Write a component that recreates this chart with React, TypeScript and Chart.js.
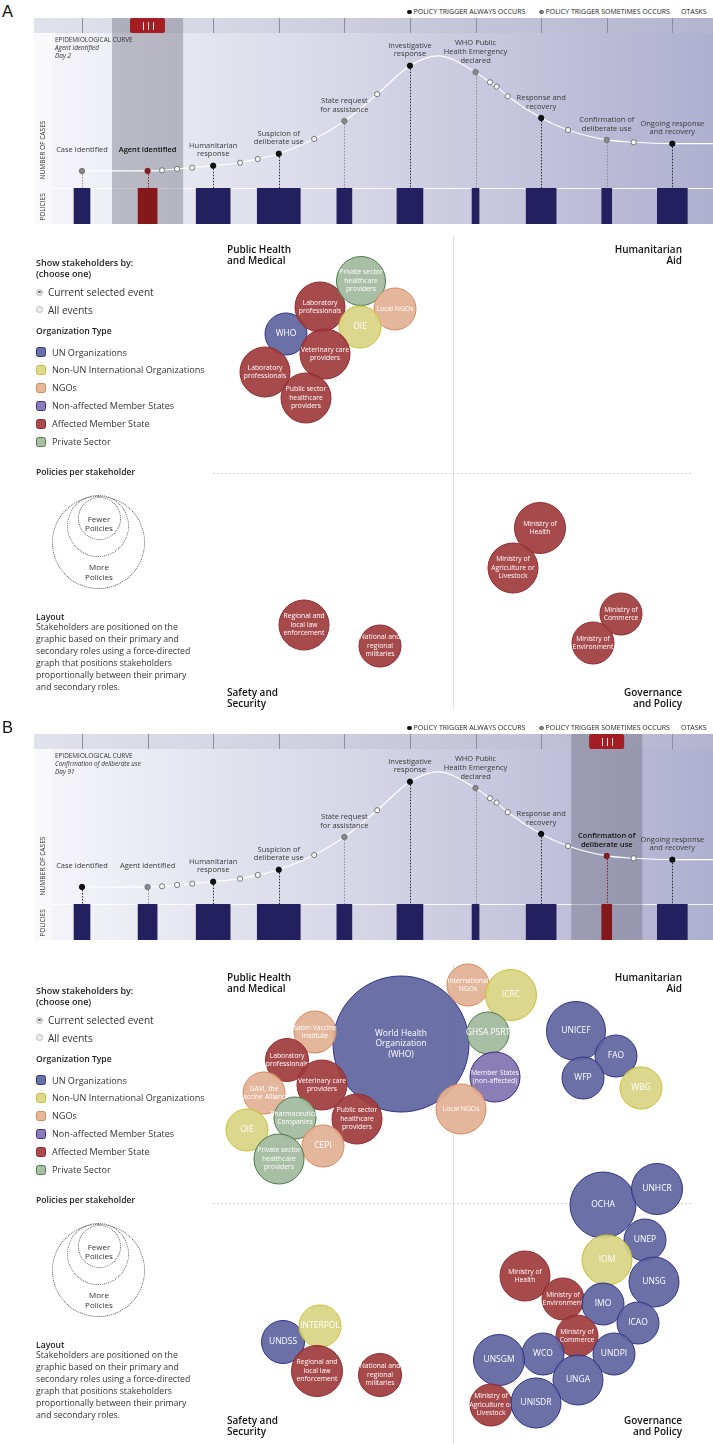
import React, { useEffect, useRef } from 'react';
import { Chart, registerables } from 'chart.js';

Chart.register(...registerables);

const FONT = '"Open Sans", "DejaVu Sans", sans-serif';
const PAGE_W = 713;

// ---------------- Epidemiological timeline data ----------------
const eventLabels = [
  'Case identified',
  'Agent identified',
  'Humanitarian\nresponse',
  'Suspicion of\ndeliberate use',
  'State request\nfor assistance',
  'Investigative\nresponse',
  'WHO Public\nHealth Emergency\ndeclared',
  'Response and\nrecovery',
  'Confirmation of\ndeliberate use',
  'Ongoing response\nand recovery',
];
const eventPos = [0, 1, 2, 3, 4, 5, 6, 7, 8, 9];
const eventCases = [11.0, 11.0, 14.4, 22.1, 43.2, 78.9, 74.8, 45.2, 31.0, 28.6];
const eventKindsA = ['sometimes', 'selected', 'always', 'always', 'sometimes', 'always', 'sometimes', 'always', 'sometimes', 'always'];
const eventKindsB = ['always', 'sometimes', 'always', 'always', 'sometimes', 'always', 'sometimes', 'always', 'selected', 'always'];
const taskPos = [1.22, 1.45, 1.68, 2.41, 2.68, 3.54, 4.5, 6.22, 6.32, 6.49, 7.41, 8.41];
const taskCases = [11.4, 12.3, 13.1, 16.3, 18.7, 31.6, 60.5, 68.2, 65.4, 59.2, 37.4, 29.5];
const curveExtraPos = [5.43, 9.62];
const curveExtraCases = [85.2, 28.6];
const policyWidths = [0.244, 0.29, 0.518, 0.656, 0.229, 0.396, 0.107, 0.457, 0.152, 0.457];

// ---------------- Stakeholder data ----------------
const orgTypes = ['un', 'nonun', 'ngo', 'nonaffected', 'affected', 'private'];
const orgTypeLabels = [
  'UN Organizations',
  'Non-UN International Organizations',
  'NGOs',
  'Non-affected Member States',
  'Affected Member State',
  'Private Sector',
];
const orgFill: Record<string, string> = {
  un: 'rgba(96,102,160,0.93)',
  nonun: 'rgba(216,212,132,0.93)',
  ngo: 'rgba(226,177,150,0.93)',
  nonaffected: 'rgba(130,116,178,0.93)',
  affected: 'rgba(160,60,62,0.93)',
  private: 'rgba(162,186,158,0.93)',
};
const orgBorder: Record<string, string> = {
  un: '#2e3384',
  nonun: '#c8bf34',
  ngo: '#d4895c',
  nonaffected: '#3d2d80',
  affected: '#8f2c30',
  private: '#4d7a4a',
};
const orgSwatch: Record<string, string> = {
  un: '#6a70a8',
  nonun: '#dcd88e',
  ngo: '#e5b79e',
  nonaffected: '#8a7cb6',
  affected: '#a9494b',
  private: '#a9c0a5',
};

type Stake = [string, string, number, number, number];

const stakeholdersA: Stake[] = [
  ['WHO', 'un', -167, 139, 21],
  ['Laboratory\nprofessionals', 'affected', -133, 166, 25],
  ['Private sector\nhealthcare\nproviders', 'private', -92, 192, 24.5],
  ['Local NGOs', 'ngo', -58, 164, 21],
  ['OIE', 'nonun', -93, 146, 21],
  ['Veterinary care\nproviders', 'affected', -128, 119, 25],
  ['Laboratory\nprofessionals', 'affected', -188, 101, 25],
  ['Public sector\nhealthcare\nproviders', 'affected', -147, 75, 25],
  ['Ministry of\nHealth', 'affected', 87, -55, 25.5],
  ['Ministry of\nAgriculture or\nLivestock', 'affected', 60, -95, 25],
  ['Ministry of\nCommerce', 'affected', 168, -141, 21],
  ['Ministry of\nEnvironment', 'affected', 140, -170, 21],
  ['Regional and\nlocal law\nenforcement', 'affected', -149, -152, 25],
  ['National and\nregional\nmilitaries', 'affected', -73, -173, 21],
];

const stakeholdersB: Stake[] = [
  ['World Health\nOrganization\n(WHO)', 'un', -52, 159, 68],
  ['International\nNGOs', 'ngo', 15, 218, 21],
  ['ICRC', 'nonun', 58, 208, 25.5],
  ['GHSA PSRT', 'private', 35, 170, 21],
  ['Member States\n(non-affected)', 'nonaffected', 42, 126, 25],
  ['Local NGOs', 'ngo', 8, 94, 25],
  ['Sabin Vaccine\nInstitute', 'ngo', -138, 171, 21],
  ['Laboratory\nprofessionals', 'affected', -166, 143, 21.5],
  ['Veterinary care\nproviders', 'affected', -131, 118, 25],
  ['GAVI, the\nVaccine Alliance', 'ngo', -189, 110, 21],
  ['Public sector\nhealthcare\nproviders', 'affected', -96, 84, 25],
  ['Pharmaceutical\nCompanies', 'private', -158, 85, 21],
  ['OIE', 'nonun', -206, 73, 21],
  ['CEPI', 'ngo', -130, 57, 21],
  ['Private sector\nhealthcare\nproviders', 'private', -174, 44, 25],
  ['UNICEF', 'un', 123, 172, 29.5],
  ['FAO', 'un', 163, 147, 21],
  ['WFP', 'un', 130, 125, 21],
  ['WBG', 'nonun', 188, 115, 21],
  ['OCHA', 'un', 150, -2, 33],
  ['UNHCR', 'un', 204, 14, 25.5],
  ['UNEP', 'un', 192, -37, 21],
  ['IOM', 'nonun', 154, -57, 25],
  ['UNSG', 'un', 201, -79, 25],
  ['Ministry of\nHealth', 'affected', 72, -73, 25],
  ['Ministry of\nEnvironment', 'affected', 110, -96, 21],
  ['IMO', 'un', 150, -101, 21],
  ['ICAO', 'un', 185, -120, 21],
  ['Ministry of\nCommerce', 'affected', 124, -133, 21],
  ['UNDPI', 'un', 161, -151, 21],
  ['WCO', 'un', 90, -151, 21],
  ['UNSGM', 'un', 46, -157, 25.5],
  ['UNGA', 'un', 125, -177, 25],
  ['Ministry of\nAgriculture or\nLivestock', 'affected', 38, -202, 21],
  ['UNISDR', 'un', 83, -200, 25],
  ['UNDSS', 'un', -170, -139, 21.5],
  ['INTERPOL', 'nonun', -133, -123, 21],
  ['Regional and\nlocal law\nenforcement', 'affected', -136, -168, 25.5],
  ['National and\nregional\nmilitaries', 'affected', -73, -172, 21.5],
];

const layoutLines = [
  'Stakeholders are positioned on the',
  'graphic based on their primary and',
  'secondary roles using a force-directed',
  'graph that positions stakeholders',
  'proportionally between their primary',
  'and secondary roles.',
];

// ---------------- Geometry ----------------
const TL_LEFT = 34;
const TL_W = 679;
const HEADER_H = 15;
const EPI_H = 170;
const POL_H = 36;
const X_MIN = -0.7318;
const X_MAX = 9.62;

const pointFill: Record<string, string> = { always: '#111', sometimes: '#8a8a8a', selected: '#8e1b1e' };
const pointBorder: Record<string, string> = { always: '#000', sometimes: '#676767', selected: '#6a1012' };
const dropColor: Record<string, string> = { always: '#2a2a2a', sometimes: '#8e8e8e', selected: '#8e1b1e' };
const NAVY = '#23205f';
const RED = '#84181b';

// ---------------- Helpers ----------------
type TP = { x: number; y: number; s: number; w?: number; i?: boolean; c?: string; align?: 'left' | 'center' | 'right'; children: any };
const T = ({ x, y, s, w = 400, i = false, c = '#222', align = 'left', children }: TP) => {
  const lh = Math.round(s * 1.4);
  const style: any = {
    position: 'absolute', top: y - lh / 2, lineHeight: lh + 'px', fontSize: s, fontWeight: w,
    fontStyle: i ? 'italic' : 'normal', color: c, whiteSpace: 'nowrap', fontFamily: FONT,
  };
  if (align === 'left') style.left = x;
  else if (align === 'right') { style.right = PAGE_W - x; style.textAlign = 'right'; }
  else { style.left = x - 100; style.width = 200; style.textAlign = 'center'; }
  return <div style={style}>{children}</div>;
};

const Dot = ({ x, y, d, bg, bd }: { x: number; y: number; d: number; bg: string; bd?: string }) => (
  <div style={{ position: 'absolute', left: x - d / 2, top: y - d / 2, width: d, height: d, borderRadius: '50%', background: bg, border: bd ? `1px solid ${bd}` : 'none', boxSizing: 'border-box' }} />
);

// ---------------- Timeline ----------------
function Timeline({ o, kinds, selected }: { o: number; kinds: string[]; selected: number }) {
  const epiRef = useRef<HTMLCanvasElement>(null);
  const polRef = useRef<HTMLCanvasElement>(null);

  useEffect(() => {
    const paintBg = (ctx: CanvasRenderingContext2D, y0: number, w: number, h: number) => {
      ctx.fillStyle = '#f9f9fb';
      ctx.fillRect(0, y0, 18, h);
      const g = ctx.createLinearGradient(18, 0, w, 0);
      g.addColorStop(0, '#f4f4f9');
      g.addColorStop(0.5, '#d3d3e5');
      g.addColorStop(1, '#afafd0');
      ctx.fillStyle = g;
      ctx.fillRect(18, y0, w - 18, h);
    };
    const shade = (chart: any) => {
      const { ctx, height, scales: { x } } = chart;
      const x0 = x.getPixelForValue(selected - 0.542);
      const x1 = x.getPixelForValue(selected + 0.542);
      ctx.save();
      ctx.fillStyle = 'rgba(95,95,110,0.36)';
      ctx.fillRect(x0, 0, x1 - x0, height);
      ctx.restore();
    };

    const epiDecor = {
      id: 'epiDecor',
      beforeDraw(chart: any) {
        const { ctx, width, height, chartArea, scales: { x } } = chart;
        const hh = chartArea.top;
        ctx.save();
        const g = ctx.createLinearGradient(0, 0, width, 0);
        g.addColorStop(0, '#e2e2ec');
        g.addColorStop(1, '#b4b4cf');
        ctx.fillStyle = g;
        ctx.fillRect(0, 0, width, hh);
        paintBg(ctx, hh, width, height - hh);
        ctx.strokeStyle = '#8d8da2';
        ctx.lineWidth = 1;
        eventPos.forEach((p) => {
          const px = Math.round(x.getPixelForValue(p)) + 0.5;
          ctx.beginPath();
          ctx.moveTo(px, 0);
          ctx.lineTo(px, hh);
          ctx.stroke();
        });
        ctx.restore();
      },
      beforeDatasetsDraw(chart: any) {
        shade(chart);
        const { ctx, height, chartArea, scales: { x, y } } = chart;
        ctx.save();
        const mx0 = x.getPixelForValue(selected - 0.268);
        const mx1 = x.getPixelForValue(selected + 0.265);
        ctx.fillStyle = '#a41d22';
        ctx.beginPath();
        (ctx as any).roundRect(mx0, 0, mx1 - mx0, chartArea.top, 2);
        ctx.fill();
        ctx.strokeStyle = 'rgba(255,255,255,0.9)';
        ctx.lineWidth = 1;
        [-0.077, 0, 0.077].forEach((d) => {
          const px = Math.round(x.getPixelForValue(selected + d)) + 0.5;
          ctx.beginPath();
          ctx.moveTo(px, 4);
          ctx.lineTo(px, 12);
          ctx.stroke();
        });
        ctx.setLineDash([1.5, 1.5]);
        eventPos.forEach((p, i) => {
          const px = Math.round(x.getPixelForValue(p)) + 0.5;
          const py = y.getPixelForValue(eventCases[i]);
          ctx.strokeStyle = dropColor[kinds[i]];
          ctx.beginPath();
          ctx.moveTo(px, py + 3);
          ctx.lineTo(px, height);
          ctx.stroke();
        });
        ctx.restore();
      },
      afterDatasetsDraw(chart: any) {
        const { ctx, scales: { x, y } } = chart;
        ctx.save();
        ctx.textAlign = 'center';
        ctx.textBaseline = 'middle';
        eventLabels.forEach((lab, i) => {
          const lines = lab.split('\n');
          const px = x.getPixelForValue(eventPos[i]);
          const py = y.getPixelForValue(eventCases[i]);
          const sel = kinds[i] === 'selected';
          ctx.font = `${sel ? 600 : 400} 7.5px ${FONT}`;
          ctx.fillStyle = sel ? '#111' : '#3a3a3a';
          const last = py - (lines.length === 1 ? 21 : 11.5);
          lines.forEach((ln, k) => ctx.fillText(ln, px, last - (lines.length - 1 - k) * 8.8));
        });
        ctx.restore();
      },
    };

    const curve = [
      ...eventPos.map((p, i) => ({ x: p, y: eventCases[i] })),
      ...taskPos.map((p, i) => ({ x: p, y: taskCases[i] })),
      ...curveExtraPos.map((p, i) => ({ x: p, y: curveExtraCases[i] })),
    ].sort((a, b) => a.x - b.x);

    const epi = new Chart(epiRef.current!, {
      type: 'line',
      data: {
        datasets: [
          {
            label: 'Policy triggers',
            data: eventPos.map((p, i) => ({ x: p, y: eventCases[i] })),
            showLine: false,
            pointRadius: 2.7,
            pointBackgroundColor: kinds.map((k) => pointFill[k]),
            pointBorderColor: kinds.map((k) => pointBorder[k]),
            pointBorderWidth: 0.8,
            order: 1,
          },
          {
            label: 'Tasks',
            data: taskPos.map((p, i) => ({ x: p, y: taskCases[i] })),
            showLine: false,
            pointRadius: 2.6,
            pointBackgroundColor: '#ffffff',
            pointBorderColor: '#555',
            pointBorderWidth: 0.8,
            order: 2,
          },
          {
            label: 'Number of cases',
            data: curve,
            borderColor: '#ffffff',
            borderWidth: 1.2,
            pointRadius: 0,
            cubicInterpolationMode: 'monotone',
            order: 3,
          },
        ],
      } as any,
      options: {
        responsive: false,
        animation: false,
        devicePixelRatio: 1,
        events: [],
        layout: { padding: { top: HEADER_H, left: 0, right: 0, bottom: 0 }, autoPadding: false },
        plugins: { legend: { display: false }, tooltip: { enabled: false } },
        scales: {
          x: { type: 'linear', min: X_MIN, max: X_MAX, display: false },
          y: { min: 0, max: 100, display: false },
        },
      } as any,
      plugins: [epiDecor],
    });

    const polDecor = {
      id: 'polDecor',
      beforeDraw(chart: any) {
        const { ctx, width, height } = chart;
        ctx.save();
        paintBg(ctx, 0, width, height);
        ctx.fillStyle = 'rgba(255,255,255,0.9)';
        ctx.fillRect(18, 0, width - 18, 1);
        ctx.restore();
      },
      beforeDatasetsDraw(chart: any) {
        shade(chart);
      },
    };

    const pol = new Chart(polRef.current!, {
      type: 'bar',
      data: {
        labels: ['Policies'],
        datasets: eventPos.map((p, i) => ({
          label: eventLabels[i],
          data: [[p - policyWidths[i] / 2, p + policyWidths[i] / 2]],
          backgroundColor: kinds[i] === 'selected' ? RED : NAVY,
          borderWidth: 0,
          grouped: false,
          categoryPercentage: 1,
          barPercentage: 1,
        })),
      } as any,
      options: {
        indexAxis: 'y',
        responsive: false,
        animation: false,
        devicePixelRatio: 1,
        events: [],
        layout: { padding: 0, autoPadding: false },
        plugins: { legend: { display: false }, tooltip: { enabled: false } },
        scales: {
          x: { type: 'linear', min: X_MIN, max: X_MAX, display: false },
          y: { display: false },
        },
      } as any,
      plugins: [polDecor],
    });

    return () => {
      epi.destroy();
      pol.destroy();
    };
  }, []);

  return (
    <>
      <canvas ref={epiRef} width={TL_W} height={EPI_H} style={{ position: 'absolute', left: TL_LEFT, top: o + 18, width: TL_W, height: EPI_H }} />
      <canvas ref={polRef} width={TL_W} height={POL_H} style={{ position: 'absolute', left: TL_LEFT, top: o + 18 + EPI_H, width: TL_W, height: POL_H }} />
    </>
  );
}

// ---------------- Bubble chart ----------------
function Bubbles({ top, height, yMax, list }: { top: number; height: number; yMax: number; list: Stake[] }) {
  const ref = useRef<HTMLCanvasElement>(null);
  useEffect(() => {
    const decor = {
      id: 'quadDecor',
      beforeDatasetsDraw(chart: any) {
        const { ctx, height: h, scales: { x, y } } = chart;
        const cx = Math.round(x.getPixelForValue(0)) + 0.5;
        const cy = Math.round(y.getPixelForValue(0)) + 0.5;
        ctx.save();
        ctx.strokeStyle = '#e0e0e0';
        ctx.lineWidth = 1;
        ctx.beginPath();
        ctx.moveTo(cx, 6);
        ctx.lineTo(cx, h);
        ctx.stroke();
        ctx.strokeStyle = '#cfcfcf';
        ctx.setLineDash([2, 2]);
        ctx.beginPath();
        ctx.moveTo(0, cy);
        ctx.lineTo(x.getPixelForValue(240), cy);
        ctx.stroke();
        ctx.restore();
      },
      afterDatasetDraw(chart: any, args: any) {
        const ds = chart.data.datasets[args.index];
        const el = args.meta.data[0];
        if (!el) return;
        const { ctx } = chart;
        const lines = String(ds.label).split('\n');
        const r = ds.data[0].r;
        const big = !/[a-z]/.test(ds.label) || r > 50;
        const fs = big ? 8.5 : 6.8;
        const lh = fs * 1.25;
        ctx.save();
        ctx.font = `400 ${fs}px ${FONT}`;
        ctx.fillStyle = '#ffffff';
        ctx.textAlign = 'center';
        ctx.textBaseline = 'middle';
        lines.forEach((ln, k) => ctx.fillText(ln, el.x, el.y + (k - (lines.length - 1) / 2) * lh));
        ctx.restore();
      },
    };
    const datasets = list
      .map(([name, type, x, y, r]) => ({
        label: name,
        data: [{ x, y, r }],
        backgroundColor: orgFill[type],
        borderColor: orgBorder[type],
        borderWidth: 1,
        clip: false,
      }))
      .reverse();
    const chart = new Chart(ref.current!, {
      type: 'bubble',
      data: { datasets } as any,
      options: {
        responsive: false,
        animation: false,
        devicePixelRatio: 1,
        events: [],
        layout: { padding: 0, autoPadding: false },
        plugins: { legend: { display: false }, tooltip: { enabled: false } },
        scales: {
          x: { type: 'linear', min: -240, max: 260, display: false },
          y: { type: 'linear', min: yMax - height, max: yMax, display: false },
        },
      } as any,
      plugins: [decor],
    });
    return () => chart.destroy();
  }, []);
  return <canvas ref={ref} width={500} height={height} style={{ position: 'absolute', left: 213, top, width: 500, height }} />;
}

// ---------------- Side legend ----------------
function SideLegend({ o }: { o: number }) {
  return (
    <>
      <T x={36} y={o + 262} s={9} w={600}>Show stakeholders by:</T>
      <T x={36} y={o + 273.5} s={9} w={600}>(choose one)</T>
      <Dot x={39.5} y={o + 292} d={7} bg="#ececec" bd="#b8b8b8" />
      <Dot x={39.5} y={o + 292} d={2.6} bg="#666" />
      <T x={48} y={o + 292} s={10} c="#333">Current selected event</T>
      <Dot x={39.5} y={o + 309.5} d={7} bg="#ececec" bd="#b8b8b8" />
      <T x={48} y={o + 309.5} s={10} c="#333">All events</T>
      <T x={36} y={o + 331} s={8.6} w={600}>Organization Type</T>
      {orgTypes.map((t, k) => (
        <React.Fragment key={t}>
          <div style={{ position: 'absolute', left: 36, top: o + 352 + k * 17.9 - 5, width: 10, height: 10, borderRadius: 2.5, background: orgSwatch[t], border: `1px solid ${orgBorder[t]}`, boxSizing: 'border-box' }} />
          <T x={52} y={o + 352 + k * 17.9} s={9.1} c="#333">{orgTypeLabels[k]}</T>
        </React.Fragment>
      ))}
      <T x={36} y={o + 472} s={8.6} w={600}>Policies per stakeholder</T>
      {[
        [98, 542, 46.5],
        [98, 526, 31],
        [99.5, 518, 21.5],
      ].map(([cx, cy, r], k) => (
        <div key={k} style={{ position: 'absolute', left: cx - r, top: o + cy - r, width: 2 * r, height: 2 * r, borderRadius: '50%', border: '1px dotted #555', boxSizing: 'border-box' }} />
      ))}
      <T x={99} y={o + 518} s={8} align="center" c="#333">Fewer</T>
      <T x={99} y={o + 527.5} s={8} align="center" c="#333">Policies</T>
      <T x={99} y={o + 566} s={8} align="center" c="#333">More</T>
      <T x={99} y={o + 576} s={8} align="center" c="#333">Policies</T>
      <T x={36} y={o + 617} s={8.6} w={600}>Layout</T>
      {layoutLines.map((ln, k) => (
        <T key={k} x={36} y={o + 627 + k * 11.9} s={8.7} c="#333">{ln}</T>
      ))}
    </>
  );
}

// ---------------- Panel ----------------
function Panel(props: {
  letter: string; to: number; bo: number; kinds: string[]; selected: number; subtitle: string[];
  list: Stake[]; bubbleTop: number; bubbleH: number; lineY: number;
}) {
  const { letter, to, bo, kinds, selected, subtitle, list, bubbleTop, bubbleH, lineY } = props;
  return (
    <>
      <div style={{ position: 'absolute', left: 2, top: to + 11 - 10, lineHeight: '20px', fontSize: 16.5, fontFamily: '"Liberation Sans", Arial, sans-serif', color: '#111' }}>{letter}</div>
      <Dot x={409.3} y={to + 12} d={4.6} bg="#111" />
      <T x={413.5} y={to + 12} s={7} c="#222">POLICY TRIGGER ALWAYS OCCURS</T>
      <Dot x={541.7} y={to + 12} d={4.6} bg="#8a8a8a" bd="#666" />
      <T x={545.5} y={to + 12} s={7} c="#222">POLICY TRIGGER SOMETIMES OCCURS</T>
      <T x={681} y={to + 12} s={7} c="#222">OTASKS</T>

      <Timeline o={to} kinds={kinds} selected={selected} />

      <T x={55} y={to + 39} s={6.4} c="#333">EPIDEMIOLOGICAL CURVE</T>
      <T x={55} y={to + 47} s={6.4} i c="#333">{subtitle[0]}</T>
      <T x={55} y={to + 55} s={6.4} i c="#333">{subtitle[1]}</T>
      <div style={{ position: 'absolute', left: 43, top: to + 150, transform: 'translate(-50%,-50%) rotate(-90deg)', fontSize: 6.6, fontFamily: FONT, color: '#333', whiteSpace: 'nowrap', lineHeight: '8px' }}>NUMBER OF CASES</div>
      <div style={{ position: 'absolute', left: 43, top: to + 207, transform: 'translate(-50%,-50%) rotate(-90deg)', fontSize: 6.6, fontFamily: FONT, color: '#333', whiteSpace: 'nowrap', lineHeight: '8px' }}>POLICIES</div>

      <Bubbles top={bubbleTop} height={bubbleH} yMax={lineY - bubbleTop} list={list} />

      <T x={227} y={bo + 249} s={10} w={600} c="#111">Public Health</T>
      <T x={227} y={bo + 259.5} s={10} w={600} c="#111">and Medical</T>
      <T x={682} y={bo + 249} s={10} w={600} c="#111" align="right">Humanitarian</T>
      <T x={682} y={bo + 259.5} s={10} w={600} c="#111" align="right">Aid</T>
      <T x={227} y={bo + 692} s={10} w={600} c="#111">Safety and</T>
      <T x={227} y={bo + 702.5} s={10} w={600} c="#111">Security</T>
      <T x={682} y={bo + 692} s={10} w={600} c="#111" align="right">Governance</T>
      <T x={682} y={bo + 702.5} s={10} w={600} c="#111" align="right">and Policy</T>

      <SideLegend o={bo} />
    </>
  );
}

export default function App() {
  return (
    <div style={{ position: 'absolute', left: 0, top: 0, width: PAGE_W, height: 1444, background: '#fff', overflow: 'hidden', fontFamily: FONT }}>
      <Panel letter="A" to={0} bo={0} kinds={eventKindsA} selected={1} subtitle={['Agent identified', 'Day 2']}
        list={stakeholdersA} bubbleTop={230} bubbleH={480} lineY={473} />
      <Panel letter="B" to={716} bo={728} kinds={eventKindsB} selected={8} subtitle={['Confirmation of deliberate use', 'Day 91']}
        list={stakeholdersB} bubbleTop={958} bubbleH={486} lineY={1203} />
    </div>
  );
}
